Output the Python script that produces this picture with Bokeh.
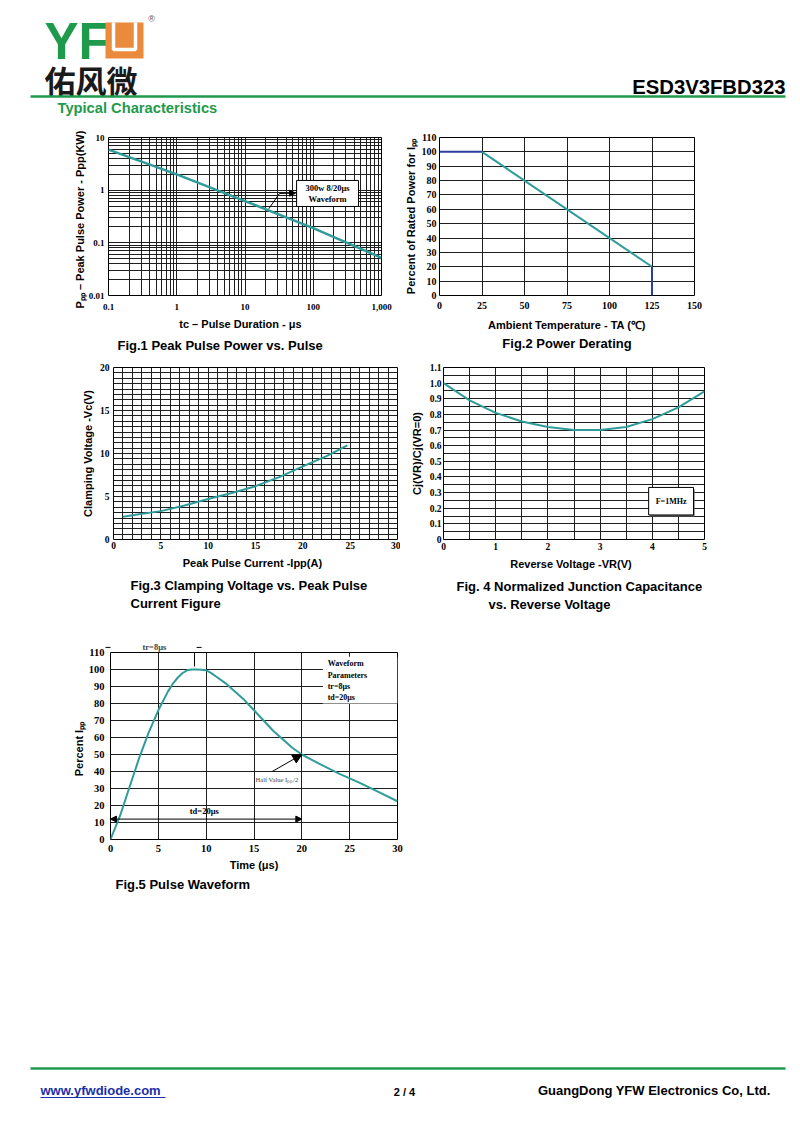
from bokeh.plotting import figure
from bokeh.models import Range1d, FixedTicker, Title, Arrow, NormalHead
from bokeh.layouts import column, row
from bokeh.embed import file_html
from bokeh.resources import INLINE
from bokeh.core.properties import value

# ---------------- data ----------------
# Fig.1 Peak pulse power vs pulse duration (log-log)
pulse_duration_us = [0.1, 1, 10, 100, 1000]
peak_pulse_power_kw = [5.9, 2.0, 0.62, 0.19, 0.052]
fig1_x_ticks = [0.1, 1, 10, 100, 1000]
fig1_x_labels = ["0.1", "1", "10", "100", "1,000"]
fig1_y_ticks = [0.01, 0.1, 1, 10]
fig1_y_labels = ["0.01", "0.1", "1", "10"]

# Fig.2 Power derating
ambient_temp_c = [0, 25, 125, 125]
rated_power_pct = [100, 100, 20, 0]
fig2_x_ticks = [0, 25, 50, 75, 100, 125, 150]
fig2_y_ticks = [0, 10, 20, 30, 40, 50, 60, 70, 80, 90, 100, 110]

# Fig.3 Clamping voltage vs peak pulse current
peak_pulse_current_a = [1, 2.5, 5, 7.5, 10, 12.5, 15, 17.5, 20, 22.5, 24.7]
clamping_voltage_v = [2.65, 2.9, 3.3, 3.95, 4.7, 5.4, 6.2, 7.25, 8.5, 9.7, 10.95]
fig3_x_ticks = [0, 5, 10, 15, 20, 25, 30]
fig3_y_ticks = [0, 5, 10, 15, 20]

# Fig.4 Normalized junction capacitance vs reverse voltage
reverse_voltage_v = [0, 0.5, 1, 1.5, 2, 2.5, 3, 3.5, 4, 4.5, 5]
norm_capacitance = [1.0, 0.89, 0.81, 0.755, 0.72, 0.70, 0.70, 0.72, 0.77, 0.845, 0.948]
fig4_x_ticks = [0, 1, 2, 3, 4, 5]
fig4_y_ticks = [0, 0.1, 0.2, 0.3, 0.4, 0.5, 0.6, 0.7, 0.8, 0.9, 1.0, 1.1]
fig4_y_labels = ["0", "0.1", "0.2", "0.3", "0.4", "0.5", "0.6", "0.7", "0.8", "0.9", "1.0", "1.1"]

# Fig.5 Pulse waveform
time_us = [0, 1, 2, 3, 4, 5, 6, 6.5, 7, 7.5, 8, 8.5, 9, 9.5, 10, 10.5, 11, 12, 13, 14, 15, 16, 17, 18,
           19, 20, 21, 22, 24, 26, 28, 30]
pulse_pct = [0, 14, 31, 48, 63, 76, 87, 91.5, 95, 97.8, 99.5, 100, 100, 99.9, 99.5, 98, 96, 92, 87, 82,
             76, 70, 64, 59, 54, 50, 47, 44, 38.5, 33.5, 28, 22.5]
fig5_x_ticks = [0, 5, 10, 15, 20, 25, 30]
fig5_y_ticks = [0, 10, 20, 30, 40, 50, 60, 70, 80, 90, 100, 110]

# ---------------- style ----------------
TEAL = "#2f9c9a"
BLUE = "#2a3f9e"
GREEN = "#1f9a4c"
GRID = "#1e1e1e"
SANS = "Liberation Sans"
SERIF = "Liberation Serif"


def base_fig(width, height, xr, yr, left, right, top, bottom, x_type="linear", y_type="linear"):
    p = figure(width=width, height=height, x_range=xr, y_range=yr,
               x_axis_type=x_type, y_axis_type=y_type,
               output_backend="svg", toolbar_location=None,
               min_border_left=left, min_border_right=right,
               min_border_top=top, min_border_bottom=bottom)
    p.outline_line_color = "black"
    p.outline_line_width = 1
    p.outline_line_alpha = 1
    p.border_fill_color = "white"
    p.background_fill_color = "white"
    p.axis.axis_line_color = None
    p.axis.major_tick_out = 0
    p.axis.major_tick_in = 0
    p.axis.minor_tick_out = 0
    p.axis.minor_tick_in = 0
    p.axis.major_tick_line_color = None
    p.axis.minor_tick_line_color = None
    p.axis.major_label_text_font = SERIF
    p.axis.major_label_text_font_style = "bold"
    p.axis.major_label_text_font_size = "9.5px"
    p.axis.major_label_text_color = "black"
    p.axis.axis_label_text_font = SANS
    p.axis.axis_label_text_font_style = "bold"
    p.axis.axis_label_text_font_size = "11px"
    p.axis.axis_label_text_color = "black"
    p.grid.grid_line_color = GRID
    p.grid.grid_line_alpha = 1
    p.grid.grid_line_width = 1
    return p


def caption(p, text, align, offset, standoff):
    t = Title(text=text, align=align, offset=offset, standoff=standoff,
              text_font=SANS, text_font_style="bold", text_font_size="13px", text_color="black")
    p.add_layout(t, "below")


def no_axes_fig(width, height, y0, y1):
    p = figure(width=width, height=height, x_range=Range1d(0, width), y_range=Range1d(y1, y0),
               x_axis_location=None, y_axis_location=None, output_backend="svg",
               toolbar_location=None, min_border=0)
    p.grid.visible = False
    p.outline_line_color = None
    return p


# ---------------- header ----------------
hdr = no_axes_fig(792, 120, 0, 120)
hdr.text(x=[44], y=[41], text=["YF"], text_color=GREEN, text_baseline="middle",
         text_font=value(SANS), text_font_style="bold", text_font_size="51px")
hdr.quad(left=[105], right=[143], top=[22], bottom=[58], fill_color="#ea8a3c", line_color=None)
hdr.line(x=[113, 113, 135, 135], y=[22, 49, 49, 22], line_color="white", line_width=3.5)
hdr.text(x=[151], y=[18], text=["®"], text_color="#555555", text_baseline="middle", text_align="center",
         text_font=value(SANS), text_font_size="9px")
hdr.text(x=[44], y=[79], text=["佑风微"], text_color="#1a1a1a", text_baseline="middle",
         text_font=value("Noto Sans CJK SC"), text_font_style="bold", text_font_size="31px")
hdr.text(x=[785], y=[86], text=["ESD3V3FBD323"], text_color="black", text_baseline="middle",
         text_align="right", text_font=value(SANS), text_font_style="bold", text_font_size="20.3px")
hdr.line(x=[30, 785], y=[96, 96], line_color=GREEN, line_width=2.5)
hdr.text(x=[57], y=[107], text=["Typical Characteristics"], text_color=GREEN, text_baseline="middle",
         text_font=value(SANS), text_font_style="bold", text_font_size="14.7px")

# ---------------- Fig.1 ----------------
f1 = base_fig(400, 238, Range1d(0.1, 1000), Range1d(0.01, 10), 108, 19, 17, 63, "log", "log")
x1_minor = [k * 10.0 ** d for d in (-1, 0, 1, 2) for k in range(2, 10)]
y1_minor = [k * 10.0 ** d for d in (-2, -1, 0) for k in range(2, 10)]
f1.xaxis.ticker = FixedTicker(ticks=fig1_x_ticks, minor_ticks=x1_minor)
f1.yaxis.ticker = FixedTicker(ticks=fig1_y_ticks, minor_ticks=y1_minor)
f1.xaxis.major_label_overrides = dict(zip(fig1_x_ticks, fig1_x_labels))
f1.yaxis.major_label_overrides = dict(zip(fig1_y_ticks, fig1_y_labels))
f1.grid.minor_grid_line_color = GRID
f1.grid.minor_grid_line_alpha = 1
f1.axis.major_label_text_font_size = "9px"
f1.xaxis.major_label_standoff = 8
f1.yaxis.major_label_standoff = 4
f1.xaxis.axis_label = "tc  –  Pulse Duration  - μs"
f1.yaxis.axis_label = "Pₚₚ  –  Peak Pulse Power - Ppp(KW)"
f1.xaxis.axis_label_standoff = 5
f1.yaxis.axis_label_standoff = 0
f1.line(pulse_duration_us, peak_pulse_power_kw, line_color=TEAL, line_width=2.5)
f1.quad(left=[57], right=[460], top=[1.53], bottom=[0.49], fill_color="white", line_color="black")
f1.text(x=[162, 162], y=[1.12, 0.667], text=["300w 8/20μs", "Waveform"], text_align="center",
        text_baseline="middle", text_font=value(SERIF), text_font_style="bold", text_font_size="8.5px")
f1.line(x=[22.3, 32], y=[0.443, 0.865], line_color="black", line_width=1)
f1.add_layout(Arrow(end=NormalHead(size=6, fill_color="black", line_color="black"),
                    x_start=32, y_start=0.865, x_end=55, y_end=0.88, line_width=1))
caption(f1, "Fig.1   Peak Pulse Power vs. Pulse", "left", 9, 6)

# ---------------- Fig.2 ----------------
f2 = base_fig(392, 238, Range1d(0, 150), Range1d(0, 110), 39, 98, 17, 62)
f2.xaxis.ticker = FixedTicker(ticks=fig2_x_ticks)
f2.yaxis.ticker = FixedTicker(ticks=fig2_y_ticks)
f2.axis.major_label_text_font_size = "10px"
f2.xaxis.major_label_standoff = 6
f2.yaxis.major_label_standoff = 3
f2.xaxis.axis_label = "Ambient Temperature - TA (℃)"
f2.yaxis.axis_label = "Percent of Rated Power for Iₚₚ"
f2.xaxis.axis_label_standoff = 7
f2.yaxis.axis_label_standoff = 2
f2.segment(x0=ambient_temp_c[:-1], y0=rated_power_pct[:-1], x1=ambient_temp_c[1:], y1=rated_power_pct[1:],
           line_color=[BLUE, TEAL, BLUE], line_width=2)
caption(f2, "Fig.2 Power Derating", "center", -7, 0)

# ---------------- Fig.3 ----------------
f3 = base_fig(400, 257, Range1d(0, 30), Range1d(0, 20), 113, 3, 9, 76)
f3.xaxis.ticker = FixedTicker(ticks=fig3_x_ticks, minor_ticks=list(range(0, 31)))
f3.yaxis.ticker = FixedTicker(ticks=fig3_y_ticks, minor_ticks=[i * 0.625 for i in range(33)])
f3.grid.minor_grid_line_color = GRID
f3.grid.minor_grid_line_alpha = 1
f3.xaxis.major_label_standoff = 2
f3.yaxis.major_label_standoff = 4
f3.xaxis.axis_label = "Peak Pulse Current   -Ipp(A)"
f3.yaxis.axis_label = "Clamping Voltage -Vc(V)"
f3.xaxis.axis_label_standoff = 5
f3.yaxis.axis_label_standoff = 3
f3.line(peak_pulse_current_a, clamping_voltage_v, line_color=TEAL, line_width=2)
caption(f3, "Fig.3 Clamping Voltage vs. Peak Pulse", "left", 17, 8)
caption(f3, "Current Figure", "left", 17, -6)

# ---------------- Fig.4 ----------------
f4 = base_fig(392, 257, Range1d(0, 5), Range1d(0, 1.1), 43, 88, 6, 76)
f4.xaxis.ticker = FixedTicker(ticks=fig4_x_ticks, minor_ticks=[i * 0.5 for i in range(11)])
f4.yaxis.ticker = FixedTicker(ticks=fig4_y_ticks, minor_ticks=[i * 0.05 for i in range(23)])
f4.yaxis.major_label_overrides = dict(zip(fig4_y_ticks, fig4_y_labels))
f4.grid.minor_grid_line_color = GRID
f4.grid.minor_grid_line_alpha = 1
f4.xaxis.major_label_standoff = 3
f4.yaxis.major_label_standoff = 2
f4.xaxis.axis_label = "Reverse Voltage   -VR(V)"
f4.yaxis.axis_label = "Cj(VR)/Cj(VR=0)"
f4.xaxis.axis_label_standoff = 5
f4.yaxis.axis_label_standoff = 4
f4.line(reverse_voltage_v, norm_capacitance, line_color=TEAL, line_width=2)
f4.quad(left=[3.95], right=[4.81], top=[0.322], bottom=[0.147], fill_color="#666666", line_color=None)
f4.quad(left=[3.93], right=[4.79], top=[0.333], bottom=[0.157], fill_color="white", line_color="black")
f4.text(x=[4.36], y=[0.245], text=["F=1MHz"], text_align="center", text_baseline="middle",
        text_font=value(SERIF), text_font_style="bold", text_font_size="8px")
caption(f4, "Fig. 4 Normalized Junction Capacitance", "left", 13, 8)
caption(f4, "vs. Reverse Voltage", "left", 45, -6)

# ---------------- Fig.5 ----------------
f5 = base_fig(792, 285, Range1d(0, 30), Range1d(0, 110), 110, 395, 37, 61)
f5.xaxis.ticker = FixedTicker(ticks=fig5_x_ticks)
f5.yaxis.ticker = FixedTicker(ticks=fig5_y_ticks)
f5.axis.major_label_text_font_size = "10.5px"
f5.xaxis.major_label_standoff = 5
f5.yaxis.major_label_standoff = 6
f5.xaxis.axis_label = "Time (μs)"
f5.yaxis.axis_label = "Percent   Iₚₚ"
f5.xaxis.axis_label_standoff = 4
f5.yaxis.axis_label_standoff = 1
f5.line(time_us, pulse_pct, line_color=TEAL, line_width=2)
f5.quad(left=[22.2], right=[30], top=[107.5], bottom=[80], fill_color="white", line_color=None)
f5.text(x=[22.7] * 4, y=[103.5, 96.5, 90, 83.5], text=["Waveform", "Parameters", "tr=8μs", "td=20μs"],
        text_baseline="middle", text_font=value(SERIF), text_font_style="bold", text_font_size="8px")
f5.text(x=[9.8], y=[17], text=["td=20μs"], text_align="center", text_baseline="middle",
        text_font=value(SERIF), text_font_style="bold", text_font_size="8.5px")
f5.add_layout(Arrow(start=NormalHead(size=6, fill_color="black"), end=NormalHead(size=6, fill_color="black"),
                    x_start=0, y_start=12, x_end=20, y_end=12, line_width=1))
f5.text(x=[17.4], y=[35.3], text=["Half Value Iₚₚ/2"], text_align="center", text_baseline="middle",
        text_font=value(SERIF), text_font_size="6.5px", text_color="#444444")
f5.add_layout(Arrow(end=NormalHead(size=9, fill_color="black"),
                    x_start=16.9, y_start=40, x_end=20, y_end=50, line_width=1))
f5.add_layout(Title(text="tr=8μs", align="left", offset=32, standoff=2,
                    text_font=SERIF, text_font_style="bold", text_font_size="8.5px"), "above")
f5.add_layout(Arrow(end=NormalHead(size=5, fill_color="black"),
                    x_start=-0.7, y_start=113, x_end=0, y_end=113, line_width=1))
f5.add_layout(Arrow(end=None, x_start=0, y_start=110, x_end=0, y_end=115, line_width=1))
f5.add_layout(Arrow(end=NormalHead(size=5, fill_color="black"),
                    x_start=10.3, y_start=113, x_end=9.0, y_end=113, line_width=1))
f5.add_layout(Arrow(end=None, x_start=8.78, y_start=101.8, x_end=8.78, y_end=115, line_width=1))
caption(f5, "Fig.5 Pulse Waveform", "left", 5, 2)

# ---------------- footer ----------------
ftr = no_axes_fig(792, 222, 900, 1122)
ftr.line(x=[30, 785], y=[1068, 1068], line_color=GREEN, line_width=2.5)
ftr.text(x=[40], y=[1090], text=["www.yfwdiode.com"], text_color="#1c2fa8", text_baseline="middle",
         text_font=value(SANS), text_font_style="bold", text_font_size="13px")
ftr.line(x=[40, 165], y=[1097, 1097], line_color="#1c2fa8", line_width=1)
ftr.text(x=[404], y=[1091], text=["2 / 4"], text_align="center", text_baseline="middle",
         text_font=value(SANS), text_font_style="bold", text_font_size="11px")
ftr.text(x=[770], y=[1090], text=["GuangDong YFW Electronics Co, Ltd."], text_align="right",
         text_baseline="middle", text_font=value(SANS), text_font_style="bold", text_font_size="13px")

page = column(row(hdr, spacing=0), row(f1, f2, spacing=0), row(f3, f4, spacing=0),
              row(f5, spacing=0), row(ftr, spacing=0), spacing=0)
open("out.html", "w").write(file_html(page, INLINE))
